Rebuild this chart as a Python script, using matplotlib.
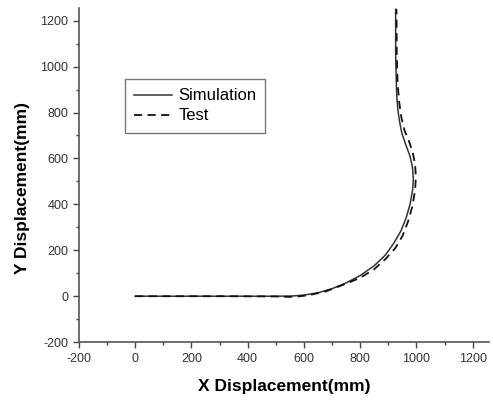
import matplotlib
matplotlib.use("Agg")
import matplotlib.pyplot as plt
from matplotlib.ticker import MultipleLocator

plt.rcParams['font.family'] = ['Liberation Sans', 'DejaVu Sans']
plt.rcParams['axes.unicode_minus'] = False

sim_x = [0, 300, 500, 560, 600, 650, 700, 750, 800, 850, 890, 920, 945, 963, 977,
         986, 989, 986, 977, 962, 948, 940, 934, 930, 928, 926, 926]
sim_y = [0, 0, 0, 1, 5, 15, 33, 58, 90, 133, 180, 232, 285, 340, 400,
         460, 510, 560, 610, 660, 710, 760, 810, 870, 950, 1050, 1250]

test_x = [0, 300, 500, 545, 580, 620, 680, 740, 800, 850, 890, 925, 950, 970, 985,
          995, 998, 995, 986, 972, 958, 946, 938, 933, 930, 929]
test_y = [0, 0, -1, -3, -1, 5, 22, 50, 80, 118, 162, 210, 262, 325, 390,
          460, 520, 575, 630, 680, 720, 780, 850, 930, 1050, 1250]

fig = plt.figure(figsize=(4.93, 4.03), dpi=100)
ax = fig.add_axes([0.160, 0.151, 0.832, 0.829])

ax.plot(sim_x, sim_y, color='#333333', lw=1.1, label='Simulation')
ax.plot(test_x, test_y, color='#111111', lw=1.3, ls=(0, (4.5, 3)), label='Test')

ax.set_xlim(-200, 1258)
ax.set_ylim(-200, 1255)
ax.xaxis.set_major_locator(MultipleLocator(200))
ax.xaxis.set_minor_locator(MultipleLocator(100))
ax.yaxis.set_major_locator(MultipleLocator(200))
ax.yaxis.set_minor_locator(MultipleLocator(100))

for s in ['top', 'right']:
    ax.spines[s].set_visible(False)
for s in ['left', 'bottom']:
    ax.spines[s].set_color('#555555')
    ax.spines[s].set_linewidth(1.2)

ax.tick_params(which='major', direction='out', length=4.5, width=1, color='#444444',
               labelsize=9, labelcolor='#333333', pad=3)
ax.tick_params(which='minor', direction='out', length=2.5, width=1, color='#444444')

ax.set_xlabel('X Displacement(mm)', fontsize=12.5, fontweight='bold')
ax.set_ylabel('Y Displacement(mm)', fontsize=12.5, fontweight='bold')
ax.xaxis.set_label_coords(0.5, -0.11)
ax.yaxis.set_label_coords(-0.12, 0.46)

leg = ax.legend(loc='upper left', bbox_to_anchor=(0.112, 0.787), fontsize=12,
                frameon=True, fancybox=False, handlelength=2.3, borderpad=0.55,
                labelspacing=0.3, handletextpad=0.35, borderaxespad=0)
leg.get_frame().set_edgecolor('#555555')
leg.get_frame().set_linewidth(1.0)

fig.savefig('out.png', dpi=100)
